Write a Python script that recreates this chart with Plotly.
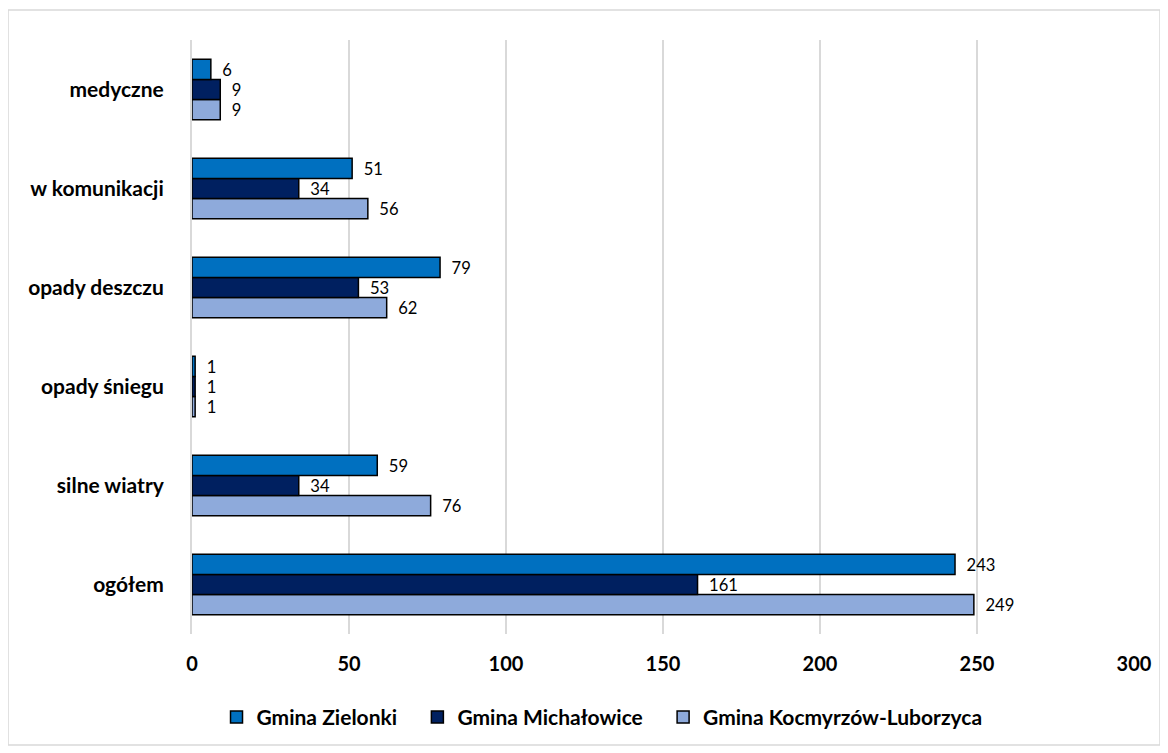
import plotly.graph_objects as go

# categories from bottom to top
categories = ['ogółem', 'silne wiatry', 'opady śniegu', 'opady deszczu', 'w komunikacji', 'medyczne']
zielonki = [243, 59, 1, 79, 51, 6]
michalowice = [161, 34, 1, 53, 34, 9]
kocmyrzow = [249, 76, 1, 62, 56, 9]

series = [
    ('Gmina Kocmyrzów-Luborzyca', kocmyrzow, '#8EAADB'),
    ('Gmina Michałowice', michalowice, '#002060'),
    ('Gmina Zielonki', zielonki, '#0070C0'),
]

fig = go.Figure()
for name, vals, col in series:
    fig.add_trace(go.Bar(
        y=categories, x=vals, name=name + '\u00a0\u00a0\u00a0', orientation='h',
        marker=dict(color=col, line=dict(color='black', width=1.5)),
        text=vals, texttemplate='\u00a0\u00a0%{text}', textposition='outside', cliponaxis=False,
        textfont=dict(family='Lato', size=19, color='black'),
    ))

fig.update_layout(
    width=1168, height=753,
    barmode='group', bargap=0.39, bargroupgap=0,
    plot_bgcolor='white', paper_bgcolor='white',
    margin=dict(l=184, r=42, t=32, b=127),
    font=dict(family='Lato', color='black'),
    xaxis=dict(
        range=[0, 300], dtick=50, showgrid=True, gridcolor='#d9d9d9', gridwidth=2,
        zeroline=False, showline=False, ticks='', ticklabelstandoff=16,
        tickfont=dict(family='Lato', size=20, color='black', weight='bold'),
    ),
    yaxis=dict(
        categoryorder='array', categoryarray=categories,
        showline=True, linecolor='#d9d9d9', linewidth=2, ticks='',
        ticklabelstandoff=22,
        tickfont=dict(family='Lato', size=21, color='black', weight='bold'),
    ),
    legend=dict(
        orientation='h', traceorder='reversed',
        xref='container', yref='container', x=0.515, y=0.058,
        xanchor='center', yanchor='middle',
        font=dict(family='Lato', size=21, color='black', weight='bold'),
        itemwidth=30,
    ),
    shapes=[dict(type='rect', xref='paper', yref='paper',
                 x0=-0.1953, x1=1.0276, y0=-0.1869, y1=1.0505,
                 line=dict(color='#d9d9d9', width=1.5), fillcolor='rgba(0,0,0,0)',
                 layer='below')],
)

fig.write_html('out.html')
